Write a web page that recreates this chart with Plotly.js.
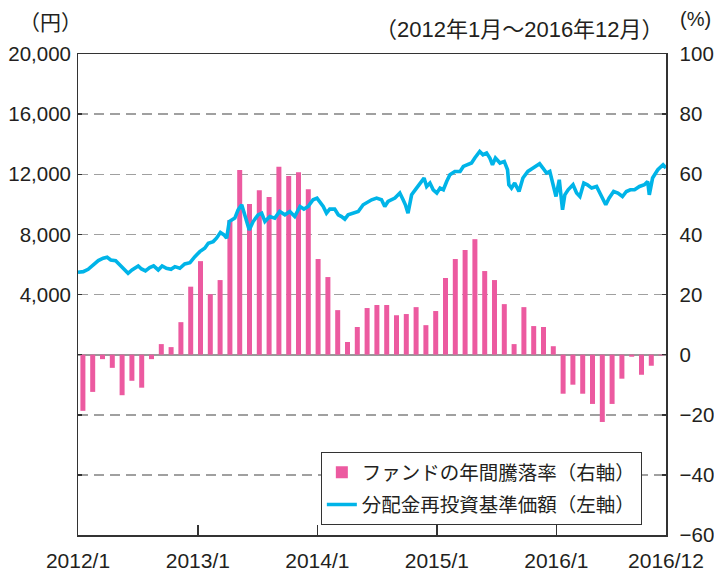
<!DOCTYPE html>
<html>
<head>
<meta charset="utf-8">
<script src="https://cdn.plot.ly/plotly-3.0.1.min.js"></script>
<style>html,body{margin:0;padding:0;background:#fff;}#chart{width:714px;height:577px;}</style>
</head>
<body>
<div id="chart"></div>
<script>
// Monthly fund return (right axis, %)
var months = ["2012/1","2012/2","2012/3","2012/4","2012/5","2012/6","2012/7","2012/8","2012/9","2012/10","2012/11","2012/12",
"2013/1","2013/2","2013/3","2013/4","2013/5","2013/6","2013/7","2013/8","2013/9","2013/10","2013/11","2013/12",
"2014/1","2014/2","2014/3","2014/4","2014/5","2014/6","2014/7","2014/8","2014/9","2014/10","2014/11","2014/12",
"2015/1","2015/2","2015/3","2015/4","2015/5","2015/6","2015/7","2015/8","2015/9","2015/10","2015/11","2015/12",
"2016/1","2016/2","2016/3","2016/4","2016/5","2016/6","2016/7","2016/8","2016/9","2016/10","2016/11","2016/12"];
var annualReturn = [-18.7,-12.4,-1.5,-4.4,-13.5,-8.7,-11.0,-1.5,3.5,2.5,10.8,22.6,
31.1,20.1,24.8,44.8,61.4,50.1,54.7,52.4,62.5,59.4,60.7,55.0,
31.8,25.8,14.8,4.2,9.2,15.5,16.5,16.5,13.1,13.5,15.8,9.8,
14.5,25.5,31.8,34.8,38.4,27.8,24.8,16.8,3.5,15.8,9.5,9.2,
2.8,-13.0,-10.0,-13.0,-16.4,-22.4,-16.4,-8.0,-0.7,-6.7,-3.7,-0.3];

// NAV with dividends reinvested (left axis, yen)
var navDates = ["2012-01-01","2012-01-17","2012-02-01","2012-02-16","2012-03-03","2012-03-18","2012-03-30","2012-04-10","2012-04-25","2012-05-08",
"2012-05-23","2012-06-02","2012-06-14","2012-07-03","2012-07-13","2012-07-25","2012-08-07","2012-08-19","2012-09-02","2012-09-14",
"2012-09-27","2012-10-11","2012-10-23","2012-11-07","2012-11-22","2012-12-08","2012-12-23","2013-01-07","2013-01-22","2013-02-02",
"2013-02-17","2013-02-27","2013-03-11","2013-03-22","2013-03-30","2013-04-07","2013-04-24","2013-05-04","2013-05-15","2013-05-25",
"2013-06-07","2013-06-19","2013-07-04","2013-07-15","2013-07-25","2013-08-09","2013-08-24","2013-09-08","2013-09-24","2013-10-09",
"2013-10-24","2013-11-09","2013-11-21","2013-12-04","2013-12-19","2013-12-31","2014-01-09","2014-01-19","2014-01-29","2014-02-08",
"2014-02-23","2014-03-06","2014-03-16","2014-03-26","2014-04-05","2014-04-20","2014-05-06","2014-05-21","2014-06-05","2014-06-16",
"2014-07-01","2014-07-16","2014-07-26","2014-08-05","2014-08-26","2014-09-10","2014-09-20","2014-09-27","2014-10-05","2014-10-16",
"2014-10-31","2014-11-15","2014-11-23","2014-12-01","2014-12-11","2014-12-21","2015-01-01","2015-01-11","2015-01-21","2015-01-31",
"2015-02-10","2015-02-25","2015-03-13","2015-03-23","2015-04-02","2015-04-17","2015-04-27","2015-05-12","2015-05-22","2015-06-02",
"2015-06-12","2015-06-20","2015-06-29","2015-07-13","2015-07-26","2015-08-05","2015-08-09","2015-08-17","2015-08-27","2015-09-09",
"2015-09-21","2015-10-06","2015-10-22","2015-11-11","2015-11-21","2015-12-02","2015-12-12","2015-12-22","2015-12-31","2016-01-10",
"2016-01-20","2016-01-27","2016-02-06","2016-02-21","2016-03-03","2016-03-13","2016-03-25","2016-04-05","2016-04-18","2016-05-03",
"2016-05-18","2016-05-31","2016-06-10","2016-06-24","2016-07-07","2016-07-21","2016-08-02","2016-08-14","2016-08-27","2016-09-11",
"2016-09-26","2016-10-06","2016-10-11","2016-10-21","2016-11-06","2016-11-22","2016-12-01"];
var navValues = [5480,5520,5680,5967,6253,6413,6480,6300,6253,5967,
5633,5413,5633,5900,5700,5567,5787,5900,5633,5900,
5747,5680,5853,5747,6033,6120,6520,6853,7080,7413,
7520,7747,8120,7967,7747,8853,9080,9633,9967,9187,
8300,8853,9300,9413,8853,9187,9080,9520,9300,9520,
9187,9853,9680,9853,10300,10413,10187,9853,9413,9680,
9680,9300,9187,9013,9300,9413,9520,9967,10187,10300,
10413,10300,9853,10187,10413,10747,10300,9967,9413,10633,
11080,11520,11747,11187,11413,10967,10747,11080,10967,11520,
11967,12187,12187,12520,12633,12747,13080,13520,13300,13413,
13080,12633,13080,12747,12853,12300,11300,11080,11413,10853,
11747,12187,12413,12700,12413,12080,12187,11413,10520,11633,
9633,10633,10967,11300,10747,10520,11413,11300,11080,11187,
10520,9967,10413,10853,10747,10520,10853,10967,10967,11187,
11300,11520,10633,11747,12300,12633,12413];

var xTickVals = ["2012-01-01","2013-01-01","2014-01-01","2015-01-01","2016-01-01","2016-12-01"];
var xTickText = ["2012/1","2013/1","2014/1","2015/1","2016/1","2016/12"];
var leftTickVals = [-8000,-4000,0,4000,8000,12000,16000,20000];
var leftTickText = ["","","","4,000","8,000","12,000","16,000","20,000"];
var rightTickVals = [-60,-40,-20,0,20,40,60,80,100];
var rightTickText = ["\u221260","\u221240","\u221220","0","20","40","60","80","100"];

var FONT = "Liberation Sans, Arial, 'Noto Sans CJK JP', sans-serif";
var TXT = "#231f20";

var traces = [
  {
    type: "bar", name: "ファンドの年間騰落率（右軸）", legendgroup: "a",
    x: months, y: annualReturn, xaxis: "x", yaxis: "y",
    marker: {color: "#ec5aa0", line: {width: 0}},
    hoverinfo: "x+y"
  },
  {
    type: "scatter", mode: "lines", name: "分配金再投資基準価額（左軸）", legendgroup: "b",
    x: navDates, y: navValues, xaxis: "x2", yaxis: "y2",
    line: {color: "#00b4e8", width: 3.6}
  }
];

var layout = {
  width: 714, height: 577,
  margin: {l: 78, r: 48, t: 54, b: 42, pad: 0},
  paper_bgcolor: "#fff", plot_bgcolor: "#fff",
  font: {family: FONT, size: 20, color: TXT},
  showlegend: true,
  bargap: 0.49,
  xaxis: {
    type: "category", range: [-0.5, 59.5], showticklabels: false, ticks: "",
    showgrid: false, zeroline: false,
    showline: true, mirror: true, linecolor: "#333", linewidth: 1.5
  },
  yaxis: {
    side: "right", range: [-60, 100], tickvals: rightTickVals, ticktext: rightTickText,
    ticks: "inside", ticklen: 4, tickcolor: "#333", tickwidth: 1.5,
    ticklabelstandoff: 8,
    showgrid: true, gridcolor: "#a0a0a0", gridwidth: 1.5, griddash: "10px,6px",
    zeroline: true, zerolinecolor: "#9a9a9a", zerolinewidth: 2,
    showline: true, mirror: true, linecolor: "#333", linewidth: 1.5,
    tickfont: {family: FONT, size: 20.5, color: TXT}
  },
  xaxis2: {
    type: "date", overlaying: "x", side: "bottom", range: ["2012-01-01", "2016-12-01"],
    tickvals: xTickVals, ticktext: xTickText,
    ticks: "inside", ticklen: 10, tickcolor: "#333", tickwidth: 1.5,
    ticklabelstandoff: 11,
    showgrid: false, zeroline: false, showline: false,
    tickfont: {family: FONT, size: 21, color: TXT}
  },
  yaxis2: {
    overlaying: "y", side: "left", range: [-12000, 20000],
    tickvals: leftTickVals, ticktext: leftTickText,
    ticks: "inside", ticklen: 4, tickcolor: "#333", tickwidth: 1.5,
    ticklabelstandoff: 6,
    showgrid: false, zeroline: false, showline: false,
    tickfont: {family: FONT, size: 20.5, color: TXT}
  },
  legend: {
    x: 0.413, y: 0.1726, xanchor: "left", yanchor: "top",
    bgcolor: "#fff", bordercolor: "#333", borderwidth: 1,
    traceorder: "grouped", tracegroupgap: 4,
    font: {family: "'Noto Sans CJK JP', sans-serif", size: 19.5, color: TXT}
  },
  annotations: [
    {text: "（円）", xref: "paper", yref: "paper", x: -0.046, y: 1.0, xanchor: "center", yanchor: "bottom", yshift: 16,
     showarrow: false, font: {family: "'Noto Sans CJK JP', sans-serif", size: 21, color: TXT}},
    {text: "（2012年1月～2016年12月）", xref: "paper", yref: "paper", x: 1.0, y: 1.0, xanchor: "right", yanchor: "bottom", yshift: 10, xshift: 0,
     showarrow: false, font: {family: FONT, size: 22, color: TXT}},
    {text: "(%)", xref: "paper", yref: "paper", x: 1.0, y: 1.0, xanchor: "right", yanchor: "bottom", yshift: 22, xshift: 47,
     showarrow: false, font: {family: FONT, size: 20, color: TXT}}
  ]
};

Plotly.newPlot("chart", traces, layout, {staticPlot: true, displayModeBar: false});
</script>
</body>
</html>
